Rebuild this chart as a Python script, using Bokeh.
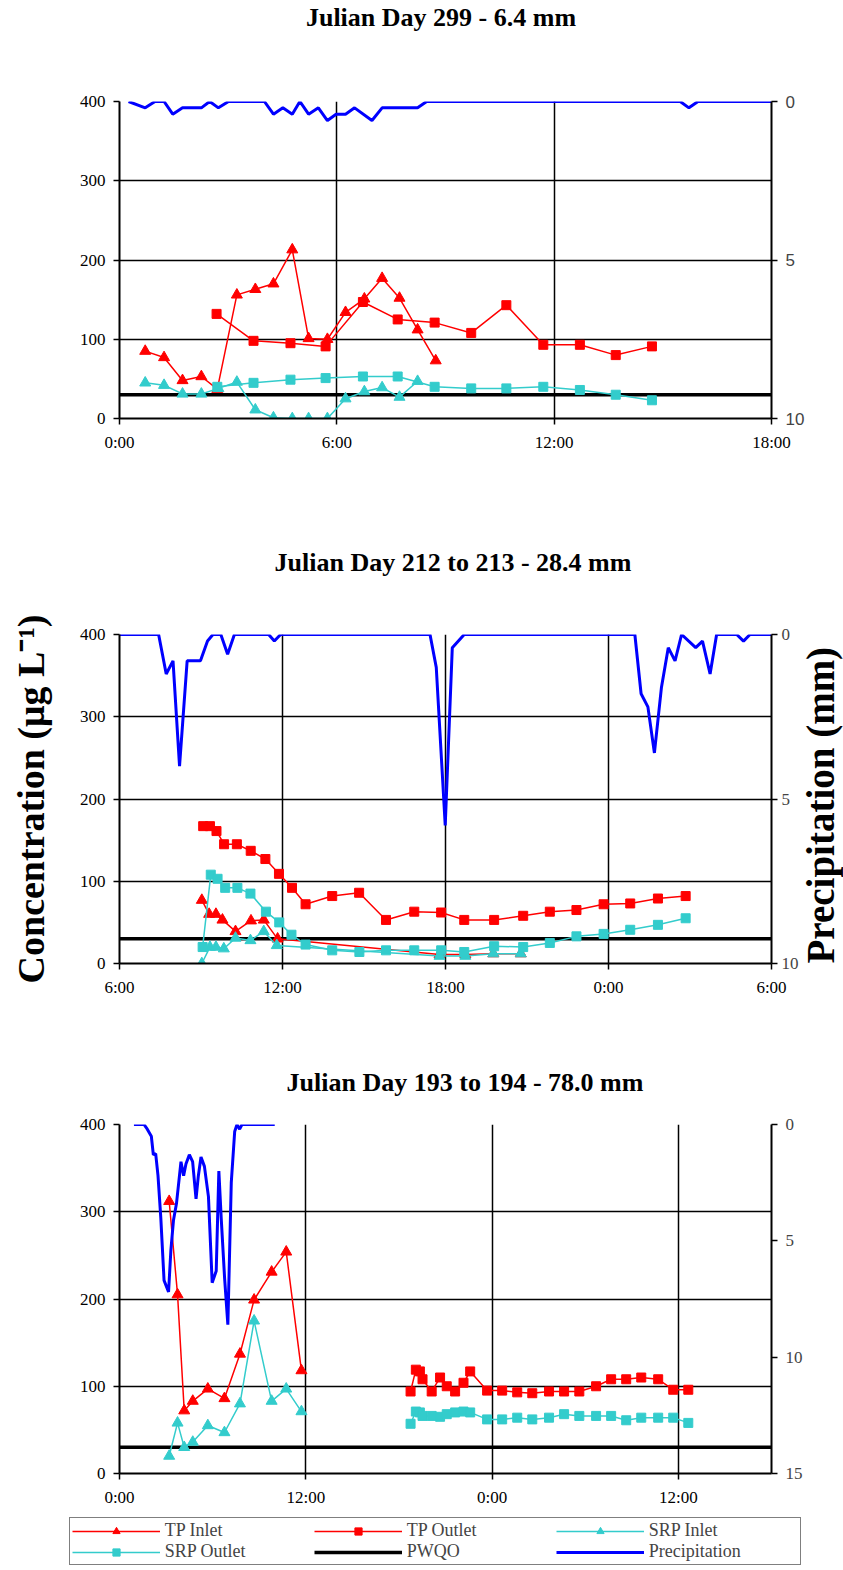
import math
from bokeh.plotting import figure
from bokeh.models import Range1d, LinearAxis, FixedTicker, Legend, LegendItem, Div
from bokeh.layouts import column
from bokeh.embed import file_html
from bokeh.resources import INLINE

# ---------------- data ----------------
PWQO = 30

# Panel 1 : Julian Day 299 (hours from 0:00)
p1_title = "Julian Day 299 - 6.4 mm"
p1_tpin_h = [0.71, 1.23, 1.74, 2.26, 2.70, 3.24, 3.75, 4.25, 4.77, 5.22, 5.74, 6.24, 6.76, 7.25, 7.73, 8.23, 8.73]
p1_tpin_c = [85, 77, 48, 53, 37, 156, 163, 170, 213, 101, 100, 134, 151, 177, 152, 112, 73]
p1_tpout_h = [2.68, 3.70, 4.72, 5.69, 6.72, 7.68, 8.70, 9.71, 10.68, 11.70, 12.71, 13.70, 14.70]
p1_tpout_c = [132, 98, 95, 91, 147, 125, 121, 108, 143, 93, 93, 80, 91]
p1_srpin_h = [0.71, 1.23, 1.74, 2.26, 2.73, 3.24, 3.75, 4.25, 4.77, 5.22, 5.74, 6.24, 6.76, 7.25, 7.73, 8.23]
p1_srpin_c = [45, 42, 31, 31, 38, 46, 11, 1, 0, 0, 0, 25, 34, 39, 27, 47]
p1_srpout_h = [2.70, 3.70, 4.72, 5.69, 6.72, 7.68, 8.70, 9.71, 10.68, 11.70, 12.71, 13.70, 14.70]
p1_srpout_c = [40, 45, 49, 51, 53, 53, 40, 38, 38, 40, 36, 30, 23]
p1_prec_h = [0.25, 0.71, 0.98, 1.23, 1.47, 1.74, 2.26, 2.49, 2.73, 3.01, 4.00, 4.25, 4.51, 4.77, 4.98,
             5.22, 5.49, 5.74, 5.98, 6.24, 6.49, 6.97, 7.25, 8.23, 8.48, 15.48, 15.72, 15.97, 18.0]
p1_prec_mm = [0, 0.2, 0, 0, 0.4, 0.2, 0.2, 0, 0.2, 0, 0, 0.4, 0.2, 0.4, 0,
              0.4, 0.2, 0.6, 0.4, 0.4, 0.2, 0.6, 0.2, 0.2, 0, 0, 0.2, 0, 0]
p1_xticks = [0, 6, 12, 18]
p1_xlabels = ["0:00", "6:00", "12:00", "18:00"]

# Panel 2 : Julian Day 212 to 213 (hours from 0:00 of day 212)
p2_title = "Julian Day 212 to 213 - 28.4 mm"
p2_tpin_h = [9.03, 9.30, 9.55, 9.79, 10.27, 10.84, 11.31, 11.82, 17.78, 18.73, 19.76, 20.77]
p2_tpin_c = [77, 60, 60, 53, 39, 52, 53, 30, 11, 11, 12, 12]
p2_tpout_h = [9.08, 9.33, 9.57, 9.85, 10.32, 10.83, 11.37, 11.87, 12.35, 12.85, 13.83, 14.82,
              15.81, 16.85, 17.84, 18.69, 19.79, 20.86, 21.84, 22.82, 23.82, 24.80, 25.82, 26.84]
p2_tpout_c = [167, 167, 161, 145, 145, 137, 127, 109, 92, 72, 82, 86,
              53, 63, 62, 53, 53, 58, 63, 65, 72, 73, 79, 82]
p2_srpin_h = [9.03, 9.33, 9.55, 9.84, 10.27, 10.82, 11.31, 11.79, 17.78, 18.73, 19.76, 20.77]
p2_srpin_c = [0, 20, 20, 18, 31, 28, 39, 22, 9, 9, 12, 12]
p2_srpout_h = [9.06, 9.36, 9.61, 9.89, 10.34, 10.82, 11.39, 11.88, 12.33, 12.85, 13.83, 14.83,
               15.81, 16.85, 17.84, 18.69, 19.79, 20.86, 21.84, 22.82, 23.82, 24.80, 25.82, 26.84]
p2_srpout_c = [20, 108, 103, 92, 92, 85, 63, 50, 35, 23, 16, 14,
               16, 16, 16, 14, 21, 20, 25, 33, 36, 41, 47, 55]
p2_prec_h = [6.0, 7.44, 7.72, 7.97, 8.21, 8.49, 8.98, 9.24, 9.44, 9.73, 9.98, 10.23, 11.49, 11.70, 11.93,
             17.43, 17.66, 17.99, 18.25, 18.69, 24.97, 25.20, 25.45, 25.69, 25.95, 26.20, 26.45, 26.69,
             27.21, 27.46, 27.74, 27.98, 28.72, 28.97, 29.21, 30.0]
p2_prec_mm = [0, 0, 1.2, 0.8, 4.0, 0.8, 0.8, 0.2, 0, 0, 0.6, 0, 0, 0.2, 0,
              0, 1.0, 5.8, 0.4, 0, 0, 1.8, 2.2, 3.6, 1.6, 0.4, 0.8, 0,
              0.4, 0.2, 1.2, 0, 0, 0.2, 0, 0]
p2_xticks = [6, 12, 18, 24, 30]
p2_xlabels = ["6:00", "12:00", "18:00", "0:00", "6:00"]

# Panel 3 : Julian Day 193 to 194 (hours from 0:00 of day 193)
p3_title = "Julian Day 193 to 194 - 78.0 mm"
p3_tpin_h = [3.20, 3.74, 4.17, 4.72, 5.69, 6.76, 7.76, 8.67, 9.80, 10.74, 11.72]
p3_tpin_c = [312, 205, 72, 83, 97, 86, 137, 199, 231, 254, 118]
p3_srpin_h = [3.20, 3.74, 4.17, 4.72, 5.69, 6.76, 7.76, 8.67, 9.80, 10.74, 11.72]
p3_srpin_c = [20, 58, 30, 36, 55, 47, 80, 175, 83, 97, 71]
p3_tpout_h = [18.75, 19.09, 19.35, 19.52, 20.11, 20.65, 21.08, 21.62, 22.16, 22.59, 23.68, 24.65,
              25.62, 26.59, 27.67, 28.64, 29.62, 30.70, 31.67, 32.64, 33.61, 34.70, 35.67, 36.64]
p3_tpout_c = [94, 119, 117, 108, 94, 110, 100, 94, 104, 117, 95, 95,
              93, 92, 94, 94, 94, 100, 108, 108, 110, 108, 96, 96]
p3_srpout_h = [18.75, 19.09, 19.35, 19.52, 20.11, 20.65, 21.08, 21.62, 22.16, 22.59, 23.68, 24.65,
               25.62, 26.59, 27.67, 28.64, 29.62, 30.70, 31.67, 32.64, 33.61, 34.70, 35.67, 36.64]
p3_srpout_c = [57, 71, 70, 66, 66, 65, 68, 70, 71, 70, 62, 62,
               64, 62, 64, 68, 66, 66, 66, 61, 64, 64, 64, 58]
p3_prec_h = [0.93, 1.58, 1.79, 2.05, 2.18, 2.33, 2.48, 2.66, 2.87, 3.16, 3.31, 3.48, 3.67, 3.96, 4.13,
             4.28, 4.50, 4.71, 4.93, 5.08, 5.25, 5.47, 5.73, 5.97, 6.23, 6.40, 6.55, 6.77, 6.98, 7.20,
             7.42, 7.57, 7.74, 7.89, 10.0]
p3_prec_mm = [0, 0, 0.2, 0.5, 1.3, 1.25, 2.2, 4.0, 6.7, 7.2, 5.4, 4.1, 3.4, 1.6, 2.2,
              1.7, 1.3, 1.6, 3.2, 2.2, 1.4, 1.8, 3.1, 6.8, 6.3, 2.0, 4.0, 6.6, 8.6, 2.5,
              0.3, 0, 0.2, 0, 0]
p3_xticks = [0, 12, 24, 36]
p3_xlabels = ["0:00", "12:00", "0:00", "12:00"]

conc_ticks = [0, 100, 200, 300, 400]
legend_labels = ["TP Inlet", "TP Outlet", "SRP Inlet", "SRP Outlet", "PWQO", "Precipitation"]

# ---------------- style ----------------
RED = "#FF0000"
CYAN = "#33CCCC"
BLUE = "#0000FF"
SERIF = "Liberation Serif"
SANS = "Liberation Sans"
NAN = float("nan")


def title_div(text, height, pad_left):
    return Div(text=text, width=843, height=height,
               styles={"font-family": SERIF, "font-size": "26px", "font-weight": "bold",
                       "text-align": "center", "line-height": f"{height}px",
                       "padding-left": f"{pad_left}px", "box-sizing": "border-box",
                       "color": "black", "margin": "0", "white-space": "nowrap"})


def draw_series(p, tpin, tpout, srpin, srpout, prec, pw_x, y_name="pr"):
    r = {}
    r["pwqo"] = p.line(pw_x, [PWQO] * len(pw_x), line_color="black", line_width=3.5)
    r["tpin_l"] = p.line(tpin[0], tpin[1], line_color=RED, line_width=1.5)
    r["tpin_m"] = p.scatter(tpin[0], tpin[1], marker="triangle", size=11, color=RED)
    r["tpout_l"] = p.line(tpout[0], tpout[1], line_color=RED, line_width=1.5)
    r["tpout_m"] = p.scatter(tpout[0], tpout[1], marker="square", size=9, color=RED)
    r["srpin_l"] = p.line(srpin[0], srpin[1], line_color=CYAN, line_width=1.5)
    r["srpin_m"] = p.scatter(srpin[0], srpin[1], marker="triangle", size=11, color=CYAN)
    r["srpout_l"] = p.line(srpout[0], srpout[1], line_color=CYAN, line_width=1.5)
    r["srpout_m"] = p.scatter(srpout[0], srpout[1], marker="square", size=9, color=CYAN)
    r["prec"] = p.line(prec[0], prec[1], y_range_name=y_name, line_color=BLUE, line_width=3)
    return r


def panel(xr, xticks, xlabels, pmax, pticks, frame_h, top, bottom,
          tpin, tpout, srpin, srpout, prec, right_font=SERIF):
    p = figure(frame_width=652, frame_height=frame_h,
               x_range=Range1d(xr[0], xr[1]), y_range=Range1d(0, 400),
               output_backend="svg", toolbar_location=None,
               min_border_left=119, min_border_right=72,
               min_border_top=top, min_border_bottom=bottom,
               outline_line_color=None, background_fill_color="white",
               border_fill_color="white")
    p.extra_y_ranges = {"pr": Range1d(start=pmax, end=0)}

    p.xaxis.ticker = FixedTicker(ticks=xticks)
    p.xaxis.major_label_overrides = {t: l for t, l in zip(xticks, xlabels)}
    p.yaxis.ticker = FixedTicker(ticks=conc_ticks)
    for ax in (p.xaxis[0], p.yaxis[0]):
        ax.axis_line_width = 2
        ax.axis_line_color = "black"
        ax.major_tick_line_color = "black"
        ax.major_tick_line_width = 1.5
        ax.major_tick_out = 6
        ax.major_tick_in = 0
        ax.minor_tick_line_color = None
        ax.major_label_text_font = SERIF
        ax.major_label_text_font_size = "17px"
        ax.major_label_text_color = "black"
        ax.major_label_standoff = 8
    rax = LinearAxis(y_range_name="pr", ticker=FixedTicker(ticks=pticks))
    rax.axis_line_width = 2
    rax.major_tick_line_width = 1.5
    rax.major_tick_out = 6
    rax.major_tick_in = 0
    rax.minor_tick_line_color = None
    rax.major_label_text_font = right_font
    rax.major_label_text_font_size = "17px"
    rax.major_label_standoff = 8
    p.add_layout(rax, "right")

    p.xgrid.ticker = FixedTicker(ticks=xticks)
    p.xgrid.grid_line_color = "black"
    p.xgrid.grid_line_width = 1.5
    p.ygrid.grid_line_color = "black"
    p.ygrid.grid_line_width = 1.5

    r = draw_series(p, tpin, tpout, srpin, srpout, prec, [xr[0], xr[1]])
    return p, rax, r


d1 = title_div(p1_title, 36, 39)
p1, rax1, _ = panel((0, 18), p1_xticks, p1_xlabels, 10, [0, 5, 10], 317, 65, 102,
                    (p1_tpin_h, p1_tpin_c), (p1_tpout_h, p1_tpout_c),
                    (p1_srpin_h, p1_srpin_c), (p1_srpout_h, p1_srpout_c),
                    (p1_prec_h, p1_prec_mm), right_font=SANS)

d2 = title_div(p2_title, 86, 63)
p2, rax2, _ = panel((6, 30), p2_xticks, p2_xlabels, 10, [0, 5, 10], 329, 28, 90,
                    (p2_tpin_h, p2_tpin_c), (p2_tpout_h, p2_tpout_c),
                    (p2_srpin_h, p2_srpin_c), (p2_srpout_h, p2_srpout_c),
                    (p2_prec_h, p2_prec_mm))
p2.yaxis[0].axis_label = "Concentration (\u03bcg L\u207b\u00b9)"
rax2.axis_label = "Precipitation (mm)"
for ax in (p2.yaxis[0], rax2):
    ax.axis_label_text_font = SERIF
    ax.axis_label_text_font_style = "bold"
    ax.axis_label_text_color = "black"
p2.yaxis[0].axis_label_text_font_size = "38px"
rax2.axis_label_text_font_size = "39px"
p2.yaxis[0].axis_label_standoff = 25
rax2.major_label_standoff = 4
rax2.axis_label_standoff = 19
rax2.axis_label_orientation = math.pi / 2
rax2.axis_label_align = "end"

d3 = title_div(p3_title, 60, 87)
p3, rax3, r3 = panel((0, 42), p3_xticks, p3_xlabels, 15, [0, 5, 10, 15], 349, 11, 37,
                     (p3_tpin_h, p3_tpin_c), (p3_tpout_h, p3_tpout_c),
                     (p3_srpin_h, p3_srpin_c), (p3_srpout_h, p3_srpout_c),
                     (p3_prec_h, p3_prec_mm))

# legend strip: renderers holding only a NaN point (nothing visible), styled like the series
p4 = figure(frame_width=727, frame_height=53, min_border_left=100, min_border_right=16,
            min_border_top=7, min_border_bottom=0, x_range=Range1d(0, 1), y_range=Range1d(0, 1),
            output_backend="svg", toolbar_location=None, outline_line_color=None,
            x_axis_location=None, y_axis_location=None, border_fill_color="white")
p4.grid.visible = False
p4.extra_y_ranges = {"pr": Range1d(start=1, end=0)}
r4 = draw_series(p4, ([NAN], [NAN]), ([NAN], [NAN]), ([NAN], [NAN]), ([NAN], [NAN]),
                 ([NAN], [NAN]), [NAN])

legend = Legend(items=[
    LegendItem(label=legend_labels[0], renderers=[r4["tpin_l"], r4["tpin_m"]]),
    LegendItem(label=legend_labels[1], renderers=[r4["tpout_l"], r4["tpout_m"]]),
    LegendItem(label=legend_labels[2], renderers=[r4["srpin_l"], r4["srpin_m"]]),
    LegendItem(label=legend_labels[3], renderers=[r4["srpout_l"], r4["srpout_m"]]),
    LegendItem(label=legend_labels[4], renderers=[r4["pwqo"]]),
    LegendItem(label=legend_labels[5], renderers=[r4["prec"]]),
], location=(30, 5), orientation="horizontal", ncols=3,
    border_line_color="black", border_line_width=1.5, background_fill_color="white",
    background_fill_alpha=1.0, label_text_font=SERIF, label_text_font_size="18px",
    glyph_width=88, glyph_height=18, label_height=18, label_width=149, spacing=0,
    padding=2, label_standoff=5, margin=0)
p4.add_layout(legend)

layout = column(d1, p1, d2, p2, d3, p3, p4)
open("out.html", "w").write(file_html(layout, INLINE))
